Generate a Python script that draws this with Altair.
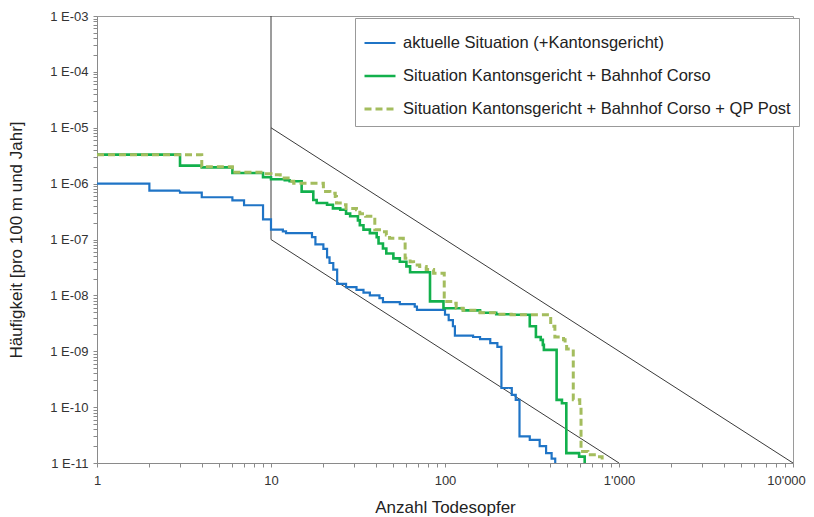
import altair as alt
import pandas as pd

series_names = [
    "aktuelle Situation (+Kantonsgericht)",
    "Situation Kantonsgericht + Bahnhof Corso",
    "Situation Kantonsgericht + Bahnhof Corso + QP Post",
]
series_colors = ["#1f74c6", "#12b04c", "#a4bd5e"]

blue_x = [1, 2, 3, 4, 6, 7, 9, 10, 11.7, 12.2, 17.2, 18, 20, 21, 21.7, 22.8, 24, 27, 31, 34, 37, 42,
          44, 55, 67, 69, 100, 105, 111, 114, 145, 159, 182, 200, 211, 242, 255, 268, 307, 350, 381, 410, 430]
blue_y = [1.0e-6, 7.5e-7, 6.9e-7, 5.7e-7, 5.0e-7, 4.1e-7, 2.3e-7, 1.5e-7, 1.4e-7, 1.3e-7, 1.1e-7, 8.2e-8,
          6.8e-8, 4.8e-8, 3.8e-8, 2.9e-8, 1.6e-8, 1.4e-8, 1.25e-8, 1.12e-8, 1.0e-8, 8.9e-9,
          7.6e-9, 7.0e-9, 6.3e-9, 5.5e-9, 4.5e-9, 3.6e-9, 2.8e-9, 1.9e-9, 1.8e-9, 1.65e-9, 1.4e-9, 1.2e-9,
          2.2e-10, 1.65e-10, 1.35e-10, 3.0e-11, 2.6e-11, 2.0e-11, 1.5e-11, 1.2e-11, 1.0e-11]

green_x = [1, 3, 4, 6, 9, 10, 12, 12.8, 15, 17.5, 18.3, 21, 22.7, 25, 27, 28.5, 31.6, 32.4, 34, 37, 40.5,
           41.5, 44, 46, 50.5, 55, 60, 63, 82, 98, 127, 159, 197, 240, 307, 333, 355, 365, 370, 438, 470,
           498, 590, 635]
green_y = [3.3e-6, 2.1e-6, 1.95e-6, 1.55e-6, 1.3e-6, 1.2e-6, 1.15e-6, 1.1e-6, 7.2e-7, 5.1e-7, 4.5e-7,
           4.2e-7, 3.6e-7, 3.4e-7, 2.9e-7, 2.6e-7, 2.2e-7, 1.8e-7, 1.5e-7, 1.3e-7, 1.1e-7, 8.5e-8, 6.9e-8,
           5.6e-8, 4.6e-8, 4.0e-8, 3.3e-8, 2.6e-8, 7.8e-9, 5.9e-9, 5.4e-9, 4.9e-9, 4.6e-9, 4.5e-9, 2.8e-9,
           1.8e-9, 1.6e-9, 1.3e-9, 1.06e-9, 1.35e-10, 1.17e-10, 1.5e-11, 1.3e-11, 1.0e-11]

olive_x = [1, 4, 6, 9, 10, 11.3, 12.8, 13.5, 20, 21.8, 23.4, 23.8, 25, 27, 31, 32.4, 35, 39.5, 42, 46, 48,
           57.6, 59, 63, 66, 71.5, 78, 86, 99, 111, 116, 127, 159, 197, 240, 405, 428, 480, 490, 500, 546,
           595, 605, 662, 738, 800]
olive_y = [3.3e-6, 2.0e-6, 1.6e-6, 1.5e-6, 1.44e-6, 1.26e-6, 1.1e-6, 1.02e-6, 7.2e-7, 6.7e-7, 5.9e-7,
           4.5e-7, 4.2e-7, 3.6e-7, 3.4e-7, 2.9e-7, 2.6e-7, 1.5e-7, 1.38e-7, 1.2e-7, 1.05e-7, 9.1e-8, 4.6e-8,
           4.0e-8, 3.5e-8, 3.3e-8, 2.9e-8, 2.5e-8, 7.8e-9, 7.2e-9, 5.9e-9, 5.4e-9, 4.9e-9, 4.6e-9, 4.5e-9,
           2.8e-9, 1.8e-9, 1.6e-9, 1.3e-9, 1.1e-9, 1.35e-10, 1.0e-10, 1.6e-11, 1.4e-11, 1.3e-11, 1.0e-11]

# F-N limit lines
lim_id = ["vertical", "vertical", "lower", "lower", "upper", "upper"]
lim_x = [10, 10, 10, 1000, 10, 10000]
lim_y = [1e-3, 1e-7, 1e-7, 1e-11, 1e-5, 1e-11]

# tick positions
mantissas = [1, 2, 3, 4, 5, 6, 7, 8, 9]
x_exps = [0, 1, 2, 3]
y_exps = [-11, -10, -9, -8, -7, -6, -5, -4]
x_ticks = [m * 10.0 ** e for e in x_exps for m in mantissas] + [10000.0]
y_ticks = [float(f"{m}e{e}") for e in y_exps for m in mantissas] + [1e-3]

rows = []
for name, xs, ys in zip(series_names, [blue_x, green_x, olive_x], [blue_y, green_y, olive_y]):
    for i, (xv, yv) in enumerate(zip(xs, ys)):
        rows.append({"series": name, "i": i, "x": xv, "y": yv})
df = pd.DataFrame(rows)
lim_df = pd.DataFrame({"seg": lim_id, "x": lim_x, "y": lim_y})

x_scale = alt.Scale(type="log", domain=[1, 10000], nice=False)
y_scale = alt.Scale(type="log", domain=[1e-11, 1e-3], nice=False)

is_pow = "abs(log(datum.value)/LN10 - round(log(datum.value)/LN10)) < 0.001"
x_label = is_pow + " ? replace(format(datum.value, ','), ',', \"'\") : ''"
y_label = (is_pow + " ? '1 E-' + (round(-log(datum.value)/LN10) < 10 ? '0' : '') + "
           "round(-log(datum.value)/LN10) : ''")

x_axis = alt.Axis(values=x_ticks, labelExpr=x_label, grid=False, tickSize=4, labelOverlap=False,
                  labelFlush=False, labelPadding=7, titlePadding=12,
                  labelOffset={"condition": {"test": "datum.value > 5000", "value": -7}, "value": 0})
y_axis = alt.Axis(values=y_ticks, labelExpr=y_label, grid=False, tickSize=4, labelOverlap=False,
                  labelFlush=False, labelPadding=5, titlePadding=24)

limits = alt.Chart(lim_df).mark_line(color="#3a3a3a", strokeWidth=1, clip=True).encode(
    x=alt.X("x:Q", scale=x_scale, axis=x_axis, title="Anzahl Todesopfer"),
    y=alt.Y("y:Q", scale=y_scale, axis=y_axis, title="Häufigkeit [pro 100 m und Jahr]"),
    detail="seg:N",
)

legend = alt.Legend(orient="none", legendX=258, legendY=2, fillColor="white", strokeColor="#999999",
                    padding=8, rowPadding=7, labelFontSize=16.5, labelColor="#222222",
                    symbolType="stroke", symbolSize=961, symbolStrokeWidth=2.5, labelOffset=6,
                    labelLimit=600)

lines = alt.Chart(df).mark_line(interpolate="step-after", clip=True).encode(
    x=alt.X("x:Q", scale=x_scale),
    y=alt.Y("y:Q", scale=y_scale),
    color=alt.Color("series:N", title=None, sort=series_names,
                    scale=alt.Scale(domain=series_names, range=series_colors), legend=legend),
    strokeDash=alt.StrokeDash("series:N", title=None, sort=series_names,
                              scale=alt.Scale(domain=series_names, range=[[1, 0], [1, 0], [7, 4]]),
                              legend=legend),
    strokeWidth=alt.StrokeWidth("series:N", sort=series_names,
                                scale=alt.Scale(domain=series_names, range=[2.2, 3, 2.5]), legend=None),
    order="i:Q",
)

chart = alt.layer(limits, lines).properties(
    width=696, height=447,
    autosize=alt.AutoSizeParams(type="none"),
    padding={"left": 89, "top": 8, "right": 13, "bottom": 53},
).configure(font="Liberation Sans").configure_view(
    stroke="#9a9a9a", strokeWidth=1
).configure_axis(
    domainColor="#8a8a8a", tickColor="#8a8a8a", labelFontSize=13, labelColor="#333333",
    titleFontSize=17, titleFontWeight="normal", titleColor="#222222"
)

chart.save("out.html", embed_options={"renderer": "svg", "actions": False})
